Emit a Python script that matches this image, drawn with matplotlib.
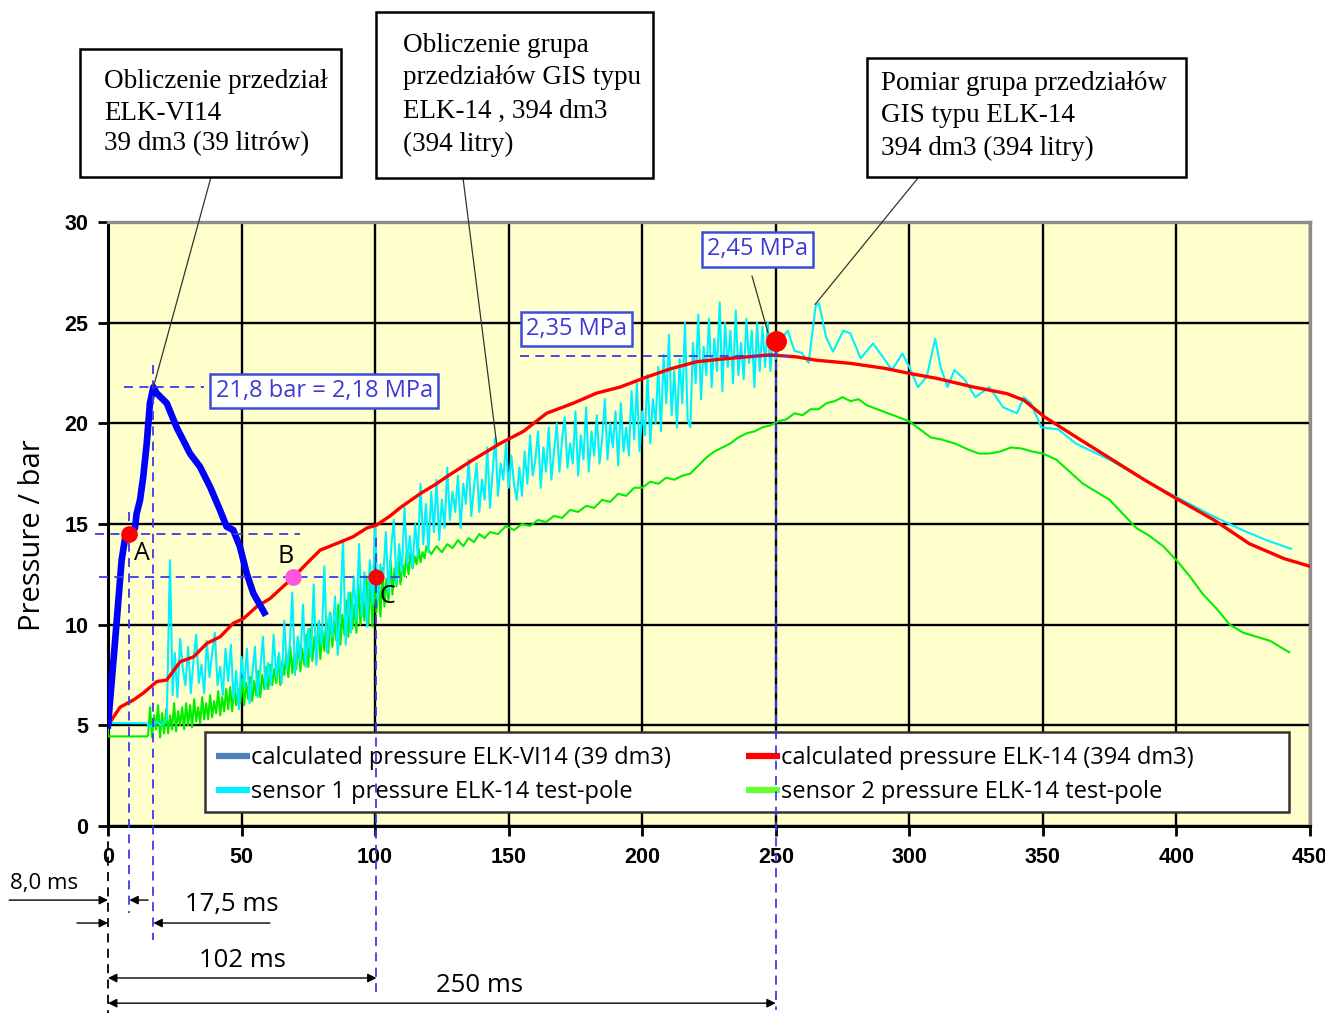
import numpy as np
import matplotlib
matplotlib.use("Agg")
import matplotlib.pyplot as plt
from matplotlib.lines import Line2D
from matplotlib.patches import Rectangle

W, H = 1325, 1013

# ---- values: time / ms, pressure / bar ----
vi14_t = [0, 2.6, 5.1, 6.4, 8.0, 10.1, 10.7, 12.0, 13.2, 14.5, 15.7, 17.0, 18.2, 22.0,
          25.7, 30.7, 34.4, 38.2, 41.9, 44.4, 46.9, 49.4, 51.9, 54.4, 58.5]
vi14_p = [5.0, 9.1, 13.2, 14.3, 14.5, 14.8, 15.5, 16.2, 17.35, 19.0, 21.0, 21.8, 21.5, 21.0,
          19.8, 18.5, 17.85, 16.85, 15.7, 14.87, 14.7, 13.87, 12.55, 11.56, 10.6]

elk14_t = [0, 4.5, 9.5, 13.2, 18.2, 22, 27, 32, 37, 42, 46.9, 50.7, 55.7, 60.7, 65.6, 69.4,
           74.4, 79.4, 86.9, 91.8, 96.9, 100.6, 105.6, 109.3, 116.8, 123, 126.8, 136.8,
           146.8, 155.5, 164.2, 174.2, 182.9, 191.7, 201.7, 210.4, 220.4, 230.4, 239.1,
           247.8, 257.8, 264.9, 277.9, 290.9, 300, 310.4, 323.4, 336.4, 342.9, 350.6,
           362.3, 375.3, 388.3, 400, 414.3, 427.3, 440.3, 450]
elk14_p = [5.0, 5.9, 6.26, 6.6, 7.17, 7.25, 8.16, 8.4, 9.07, 9.4, 10.07, 10.3, 10.9, 11.3,
           11.9, 12.35, 13.04, 13.7, 14.1, 14.37, 14.8, 14.95, 15.4, 15.8, 16.5, 17.0, 17.35,
           18.2, 19.0, 19.6, 20.5, 21.0, 21.5, 21.8, 22.3, 22.7, 23.06, 23.2, 23.3, 23.4,
           23.3, 23.14, 22.98, 22.73, 22.48, 22.23, 21.82, 21.48, 21.15, 20.32, 19.33,
           18.25, 17.17, 16.26, 15.18, 14.02, 13.28, 12.9]

# sensor 1: quiet start, noisy record (one value per ms), smoother tail
s1_head_t = [0, 14.5, 16, 18, 20, 22, 23.2, 24.2]
s1_head_p = [5.12, 5.1, 4.9, 5.2, 5.0, 5.3, 13.2, 6.5]
s1_noisy_t = np.arange(25, 251, 1.0)
s1_noisy_p = [8.6, 6.4, 9.3, 7.8, 7.0, 8.9, 6.6, 8.2, 9.5, 7.1,
              8.0, 6.6, 9.2, 7.4, 8.6, 9.6, 7.0, 7.9, 6.5, 8.8,
              7.2, 9.0, 6.3, 7.7, 5.8, 8.4, 6.9, 8.8, 6.1, 7.5,
              8.9, 6.4, 7.8, 9.4, 6.8, 8.1, 7.0, 9.5, 7.4, 8.6,
              7.1, 10.2, 7.8, 8.9, 11.6, 7.5, 9.4, 8.2, 11.0, 7.9,
              9.8, 8.4, 12.0, 8.0, 10.2, 9.0, 12.9, 8.6, 10.6, 9.4,
              11.4, 8.5, 10.8, 14.2, 9.0, 11.6, 9.6, 12.4, 10.2, 14.0,
              10.4, 12.6, 9.9, 13.2, 11.0, 14.9, 11.2, 13.0, 12.2, 14.6,
              11.6, 13.8, 15.2, 12.0, 14.0, 12.6, 15.8, 13.0, 14.4, 12.8,
              15.0, 13.4, 17.0, 14.0, 16.0, 13.6, 16.6, 14.6, 17.2, 14.2,
              16.2, 14.8, 17.8, 15.2, 16.6, 15.6, 17.4, 14.8, 17.0, 16.0,
              18.2, 15.4, 16.8, 18.0, 15.6, 17.2, 16.2, 18.8, 15.8, 17.6,
              19.3, 16.4, 18.0, 17.2, 19.0, 16.8, 18.4, 17.0, 16.2, 17.8,
              16.4, 18.6, 17.0, 19.4, 17.4, 18.2, 19.6, 16.8, 18.8, 17.6,
              19.8, 17.2, 18.6, 20.0, 17.6, 19.2, 20.3, 17.8, 19.0, 18.0,
              20.6, 17.4, 19.4, 18.2, 20.8, 17.6, 19.6, 18.4, 20.4, 18.0,
              19.2, 21.2, 18.2, 20.0, 18.8, 20.6, 17.9, 21.0, 18.6, 19.8,
              18.4, 21.6, 19.2, 22.0, 18.6, 20.6, 19.4, 22.4, 19.0, 21.2,
              20.0, 22.8, 19.6, 23.4, 21.0, 24.4, 20.4, 22.6, 19.8, 23.2,
              21.0, 25.0, 20.2, 19.8, 24.0, 22.0, 25.4, 21.2, 23.8, 22.4,
              25.2, 21.8, 24.2, 22.6, 26.0, 21.6, 25.0, 22.8, 24.6, 22.0,
              25.6, 22.4, 24.0, 22.2, 25.2, 23.0, 24.6, 21.8, 25.0, 22.6,
              24.8, 22.8, 25.0, 22.6, 24.4, 23.2]
s1_tail_t = [252, 254.5, 257, 259.7, 262.3, 264.9, 266.2, 268.8, 271.4, 275.3, 277.9, 281.8,
             286.4, 290.9, 293.5, 297.4, 300, 303.2, 306.5, 309.7, 311.7, 314.3, 316.9,
             320.8, 324.7, 329.9, 335.1, 340.3, 342.9, 345.5, 349.4, 355.8, 362.3, 375.3,
             388.3, 400, 414.3, 424.7, 433.8, 442.9]
s1_tail_p = [24.2, 24.6, 23.6, 23.5, 23.0, 25.8, 25.96, 24.3, 23.56, 24.6, 24.47, 23.23,
             23.97, 23.14, 22.65, 23.47, 22.8, 21.8, 22.3, 24.2, 22.8, 21.8, 22.65,
             22.15, 21.3, 21.8, 20.8, 20.5, 21.3, 21.0, 19.8, 19.7, 19.0, 18.17,
             17.17, 16.34, 15.35, 14.7, 14.19, 13.77]

# sensor 2: offset start, noisy rise (every 0.75 ms), slightly jittery remainder
s2_head_t = [0, 0, 14.5]
s2_head_p = [5.0, 4.45, 4.45]
s2_noisy_t = np.arange(15, 120, 0.75)
s2_noisy_p = [4.5, 5.9, 4.4, 5.5, 4.8, 6.0, 4.4, 5.6, 4.6, 5.8,
              4.6, 5.5, 4.8, 6.1, 4.7, 5.7, 5.0, 5.9, 4.8, 6.1,
              5.0, 6.0, 4.9, 6.3, 5.2, 5.9, 5.1, 6.4, 5.3, 6.1,
              5.3, 6.5, 5.4, 6.2, 5.6, 6.7, 5.5, 6.4, 5.7, 6.8,
              5.8, 6.9, 5.7, 7.0, 6.0, 6.8, 6.1, 7.3, 6.0, 7.1,
              6.3, 7.4, 6.2, 7.2, 6.5, 7.7, 6.4, 7.5, 6.8, 7.9,
              6.8, 8.0, 7.0, 7.8, 7.1, 8.4, 7.0, 8.2, 7.5, 8.6,
              7.4, 8.9, 7.6, 8.5, 7.8, 9.2, 7.7, 8.8, 8.0, 9.5,
              7.9, 9.8, 8.2, 9.4, 8.4, 10.1, 8.3, 9.7, 8.7, 10.4,
              8.6, 10.6, 8.9, 10.2, 9.2, 11.0, 9.0, 10.5, 9.5, 11.2,
              9.4, 11.6, 9.8, 11.0, 9.6, 12.0, 10.0, 11.4, 10.2, 12.4,
              10.0, 12.6, 9.9, 12.0, 10.6, 12.4, 10.4, 12.8, 10.9, 12.3,
              11.2, 13.2, 11.5, 12.8, 11.9, 13.4, 12.0, 13.0, 12.4, 13.5,
              12.5, 13.6, 12.8, 13.4, 13.0, 13.8, 13.1, 13.6, 13.3, 13.9]
s2_tail_t = [121, 123, 125, 127, 129, 131, 133, 135, 137, 139, 141, 143, 146, 149, 152, 155,
             158, 161, 164, 167, 170, 173, 176, 179, 182, 185, 188, 191, 194, 197, 200, 203,
             206, 209, 212, 215, 218, 221, 224, 227, 230, 233, 236, 239, 242, 245, 248, 251,
             254, 257, 260, 263, 266, 269, 272, 275, 278, 281, 284, 288, 292, 296, 300, 304,
             308, 312, 317, 322, 326, 330, 334, 338, 342, 346, 350, 355, 360, 365, 370, 375,
             380, 385, 390, 395, 400, 405, 410, 415, 420, 425, 430, 435, 442.2]
s2_tail_p = [13.5, 13.9, 13.6, 14.0, 13.8, 14.2, 13.9, 14.3, 14.1, 14.5, 14.3, 14.6, 14.5,
             14.9, 14.7, 15.0, 14.9, 15.2, 15.1, 15.4, 15.3, 15.7, 15.6, 15.9, 15.8, 16.2,
             16.1, 16.5, 16.4, 16.8, 16.8, 17.1, 17.0, 17.3, 17.2, 17.4, 17.5, 17.9, 18.3,
             18.6, 18.8, 19.0, 19.3, 19.5, 19.6, 19.8, 19.9, 20.1, 20.2, 20.5, 20.4, 20.7,
             20.7, 21.0, 21.1, 21.3, 21.1, 21.2, 20.9, 20.7, 20.5, 20.3, 20.1, 19.7, 19.3,
             19.2, 19.0, 18.7, 18.5, 18.5, 18.6, 18.8, 18.75, 18.6, 18.5, 18.2, 17.6, 17.0,
             16.6, 16.2, 15.5, 14.8, 14.4, 13.9, 13.2, 12.4, 11.5, 10.8, 10.0, 9.6, 9.4,
             9.2, 8.63]

s1_t = np.concatenate([s1_head_t, s1_noisy_t, s1_tail_t])
s1_p = np.concatenate([s1_head_p, s1_noisy_p, s1_tail_p])
s2_t = np.concatenate([s2_head_t, s2_noisy_t, s2_tail_t])
s2_p = np.concatenate([s2_head_p, s2_noisy_p, s2_tail_p])

# marked points
t_A, p_A = 8.0, 14.5
t_peak, p_peak = 17.0, 21.8
t_B, p_B = 69.4, 12.35
t_C, p_C = 100.5, 12.35
t_max, p_max = 250.0, 24.1
p_elk_max = 23.35

labels = ["calculated pressure ELK-VI14 (39 dm3)", "calculated pressure ELK-14 (394 dm3)",
          "sensor 1 pressure ELK-14 test-pole", "sensor 2 pressure ELK-14 test-pole"]

SANS = "Open Sans"
DASH_BLUE = "#3a3af0"
TXT_BLUE = "#3c3cd2"

fig = plt.figure(figsize=(W / 100, H / 100), dpi=100)
ax = fig.add_axes([108 / W, 1 - 826 / H, 1202 / W, 604 / H])
ax.set_facecolor("#ffffcc")
ax.set_xlim(0, 450)
ax.set_ylim(0, 30)
ax.set_xticks(np.arange(0, 451, 50))
ax.set_yticks(np.arange(0, 31, 5))
ax.grid(True, color="black", lw=1.7)
ax.set_axisbelow(True)
for side in ["left", "bottom"]:
    ax.spines[side].set_color("black")
    ax.spines[side].set_linewidth(2.2)
for side in ["top", "right"]:
    ax.spines[side].set_color("#8c8c8c")
    ax.spines[side].set_linewidth(2.4)
ax.tick_params(axis="both", direction="out", length=7, width=2, labelsize=15.5)
ax.tick_params(axis="x", pad=8)
ax.tick_params(axis="y", pad=7)
for lab in ax.get_xticklabels() + ax.get_yticklabels():
    lab.set_fontfamily("Liberation Sans")
    lab.set_fontweight("bold")

# series
ax.plot(s2_t, s2_p, color="#00ee00", lw=1.5, zorder=3)
ax.plot(s1_t, s1_p, color="#00f0ff", lw=1.5, zorder=3)
ax.plot(elk14_t, elk14_p, color="#ff0000", lw=2.4, zorder=3)
ax.plot(vi14_t, vi14_p, color="#0000ff", lw=4.8, zorder=3, solid_joinstyle="round")

# legend box
ax.add_patch(Rectangle((0.0807, 0.023), 0.902, 0.133, transform=ax.transAxes,
                       fc="white", ec="#333333", lw=1.8, zorder=4))
handles = [Line2D([], [], color="#4f81bd", lw=4.5, solid_capstyle="butt"),
           Line2D([], [], color="#ff0000", lw=4.5, solid_capstyle="butt"),
           Line2D([], [], color="#00f0ff", lw=4.5, solid_capstyle="butt"),
           Line2D([], [], color="#66ff33", lw=4.5, solid_capstyle="butt")]
order = [0, 2, 1, 3]
leg = ax.legend([handles[i] for i in order], [labels[i] for i in order], ncol=2,
                loc="upper left", bbox_to_anchor=((216 - 108) / 1202, (826 - 746) / 604),
                frameon=False, borderpad=0, borderaxespad=0, handlelength=1.45,
                handletextpad=0.02, columnspacing=3.2, labelspacing=0.42,
                prop={"family": SANS, "size": 17})
leg.set_zorder(5)

# dashed guide lines
dash = dict(color=DASH_BLUE, lw=1.3, ls=(0, (5, 3.5)), zorder=6, clip_on=False)
ax.plot([6, 36], [p_peak, p_peak], **dash)
ax.plot([t_peak, t_peak], [22.9, -5.66], **dash)
ax.plot([-4.9, 72], [p_A, p_A], **dash)
ax.plot([t_A, t_A], [15.6, -4.3], **dash)
ax.plot([-3.4, 112], [p_B, p_B], **dash)
ax.plot([t_C, t_C], [14.3, -8.25], **dash)
ax.plot([154.2, 255], [p_elk_max, p_elk_max], **dash)
ax.plot([t_max, t_max], [24.6, -9.14], **dash)
ax.plot([0, 0], [0, -9.3], color="black", lw=1.3, ls=(0, (5, 3.5)), clip_on=False)

# markers
ax.plot(t_A, p_A, "o", color="#ff0000", ms=11, zorder=7)
ax.plot(t_B, p_B, "o", color="#ff55dd", ms=11, zorder=7)
ax.plot(t_C, p_C, "o", color="#ff0000", ms=10.5, zorder=7)
ax.plot(t_max, p_max, "o", color="#ff0000", ms=14, zorder=7)
for s, x, y in [("A", 12.8, 13.55), ("B", 66.5, 13.38), ("C", 104.6, 11.39)]:
    ax.text(x, y, s, ha="center", va="center", fontsize=18, family=SANS, zorder=8)

# blue value boxes
box = dict(boxstyle="square,pad=0.22", fc="white", ec="#3b4be0", lw=1.8)
for s, x, y in [("21,8 bar = 2,18 MPa", 80.9, 21.6), ("2,35 MPa", 175.5, 24.7),
                ("2,45 MPa", 243.1, 28.64)]:
    ax.text(x, y, s, ha="center", va="center", color=TXT_BLUE, fontsize=17,
            family=SANS, bbox=box, zorder=8)

# callout boxes above the plot
callouts = [
    ((80, 49, 341, 177), 104, [82, 113, 144],
     ["Obliczenie przedział", "ELK-VI14", "39 dm3 (39 litrów)"]),
    ((376, 12, 653, 178), 403, [45, 78, 111, 144],
     ["Obliczenie grupa", "przedziałów GIS typu", "ELK-14 , 394 dm3", "(394 litry)"]),
    ((867, 58, 1186, 177), 881, [84, 116, 148],
     ["Pomiar grupa przedziałów", "GIS typu ELK-14", "394 dm3 (394 litry)"]),
]
for (x0, y0, x1, y1), tx, tys, lines in callouts:
    fig.add_artist(Rectangle((x0 / W, 1 - y1 / H), (x1 - x0) / W, (y1 - y0) / H,
                             transform=fig.transFigure, fc="white", ec="black", lw=1.8))
    for ty, line in zip(tys, lines):
        fig.text(tx / W, 1 - ty / H, line, family="Liberation Serif", fontsize=19.5,
                 va="center", ha="left")

# leader lines
leaders = [((211, 177), (t_peak, p_peak)), ((463, 178), (145.5, 19.0)),
           ((918, 178), (264.7, 25.9)), ((752, 276), (247.1, 24.49))]
for (px, py), xy in leaders:
    ax.annotate("", xy=xy, xytext=(px, H - py), textcoords="figure pixels",
                arrowprops=dict(arrowstyle="-", color="#333333", lw=0.9,
                                shrinkA=0, shrinkB=0), annotation_clip=False, zorder=6)

# time dimensions below the axis
arr = dict(arrowstyle="-|>", color="black", lw=1.0, mutation_scale=13, shrinkA=0, shrinkB=0)
arr2 = dict(arrowstyle="<|-|>", color="black", lw=1.0, mutation_scale=13, shrinkA=0, shrinkB=0)
dims_single = [((-37, -3.68), (0, -3.68)), ((15, -3.68), (t_A, -3.68)),
               ((-11.6, -4.82), (0, -4.82)), ((60.6, -4.82), (t_peak, -4.82))]
for start, end in dims_single:
    ax.annotate("", xy=end, xytext=start, arrowprops=arr, annotation_clip=False)
for end_t, y in [(t_C, -7.55), (t_max, -8.8)]:
    ax.annotate("", xy=(end_t, y), xytext=(0, y), arrowprops=arr2, annotation_clip=False)
for s, x, y, fs in [("8,0 ms", -24, -2.85, 16), ("17,5 ms", 46.4, -3.92, 18.5),
                    ("102 ms", 50.2, -6.66, 18.5), ("250 ms", 138.9, -7.9, 18.5)]:
    ax.text(x, y, s, ha="center", va="center", fontsize=fs, family=SANS, clip_on=False)

fig.text(33 / W, 1 - 535 / H, "Pressure / bar", rotation=90, ha="center", va="center",
         fontsize=21, family=SANS)

fig.savefig("out.png", dpi=100)
